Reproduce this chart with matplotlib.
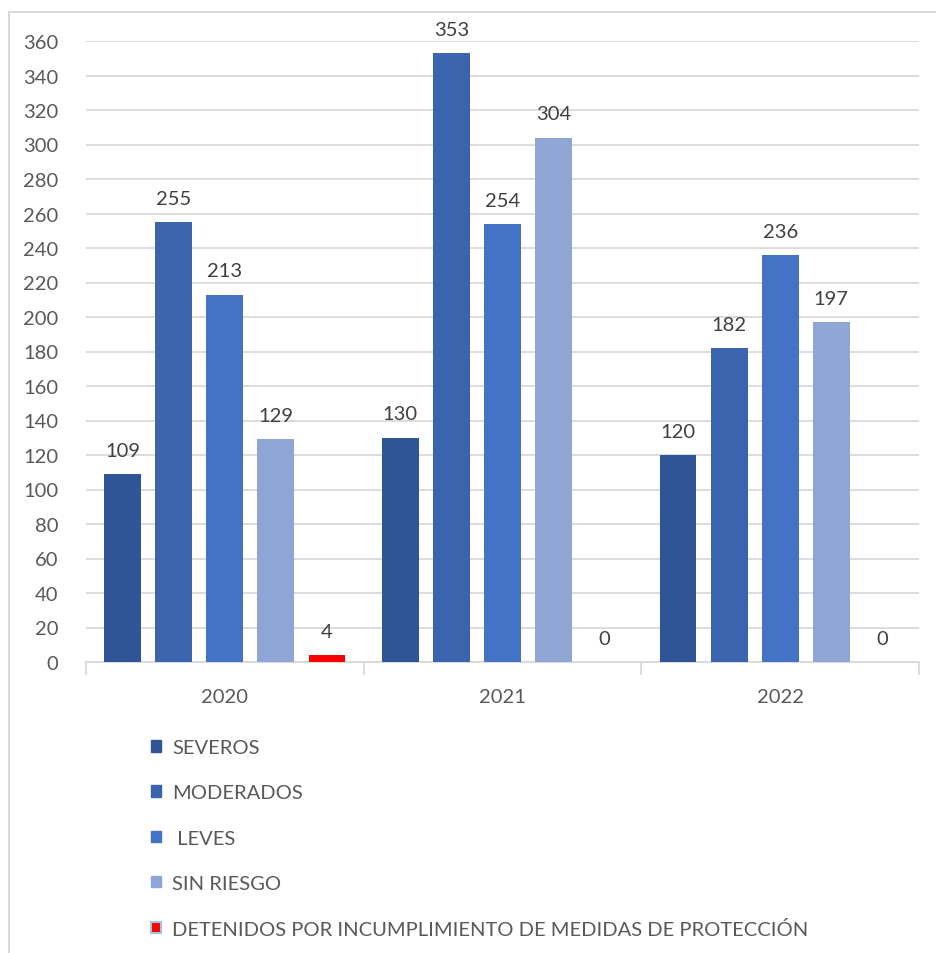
import matplotlib.pyplot as plt
import numpy as np
from matplotlib.patches import Rectangle, Patch

years = ['2020', '2021', '2022']
series = ['SEVEROS', 'MODERADOS', ' LEVES', 'SIN RIESGO',
          'DETENIDOS POR INCUMPLIMIENTO DE MEDIDAS DE PROTECCIÓN']
severos = [109, 130, 120]
moderados = [255, 353, 182]
leves = [213, 254, 236]
sin_riesgo = [129, 304, 197]
detenidos = [4, 0, 0]
colores = ['#2F5597', '#3A64AD', '#4472C4', '#8FA5D5', '#FF0000']

plt.rcParams['font.family'] = ['Lato', 'DejaVu Sans']
fs = 14.5
gris = '#595959'

fig = plt.figure(figsize=(9.36, 9.54), dpi=100)
# marco exterior del grafico
fig.patches.append(Rectangle((9/936, -0.02), 1.0, 1 - 13/954 + 0.02, transform=fig.transFigure,
                             fill=False, edgecolor='#D9D9D9', lw=1.5))
ax = fig.add_axes([86/936, 1 - 663/954, (919 - 86)/936, (663 - 42)/954])

x = np.arange(len(years))
paso = 0.184
ancho = 0.133
datos = [severos, moderados, leves, sin_riesgo, detenidos]
for i, (vals, col) in enumerate(zip(datos, colores)):
    b = ax.bar(x + (i - 2) * paso, vals, ancho, color=col, zorder=3)
    ax.bar_label(b, padding=11, fontsize=fs, color='#404040')

ax.set_xlim(-0.5, 2.5)
ax.set_ylim(0, 360)
ax.set_yticks(range(0, 361, 20))
ax.yaxis.grid(True, color='#D9D9D9', lw=1.3, zorder=0)
ax.set_xticks(x)
ax.set_xticklabels(years)
ax.set_xticks([-0.5, 0.5, 1.5, 2.5], minor=True)
ax.tick_params(axis='x', which='major', length=0, pad=19, labelsize=fs, labelcolor=gris)
ax.tick_params(axis='x', which='minor', length=9, color='#D9D9D9', width=1.3)
ax.tick_params(axis='y', length=0, pad=20, labelsize=fs, labelcolor=gris)
for s in ['top', 'right', 'left']:
    ax.spines[s].set_visible(False)
ax.spines['bottom'].set_color('#D9D9D9')
ax.spines['bottom'].set_linewidth(1.3)

handles = [Patch(facecolor=c, edgecolor=c) for c in colores[:4]]
handles.append(Patch(facecolor=colores[4], edgecolor='#9DC3E6', lw=1.5))
fig.legend(handles, series, loc='upper left', bbox_to_anchor=(133/936, 1 - 722/954),
           frameon=False, handlelength=0.5, handleheight=0.5, handletextpad=0.55,
           labelspacing=1.4, fontsize=fs, labelcolor=gris)

fig.savefig('out.png', dpi=100)
